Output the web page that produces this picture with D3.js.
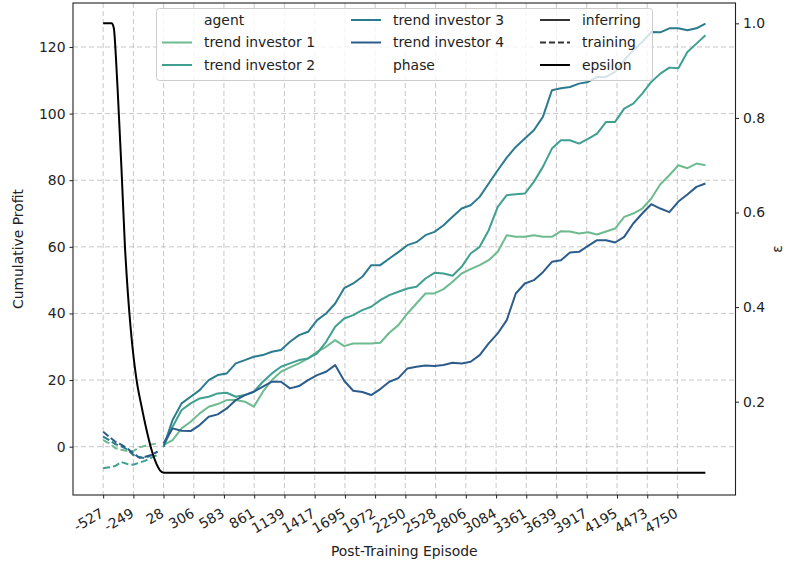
<!DOCTYPE html>
<html>
<head>
<meta charset="utf-8">
<script src="https://cdn.jsdelivr.net/npm/d3@7"></script>
<style>
  body { margin: 0; background: #fff; }
  text { font-family: "DejaVu Sans", sans-serif; fill: #222; }
</style>
</head>
<body>
<div id="chart"></div>
<script>
// tick labels on the episode axis
var xTicks = [-527, -249, 28, 306, 583, 861, 1139, 1417, 1695, 1972, 2250, 2528, 2806, 3084, 3361, 3639, 3917, 4195, 4473, 4750];
var profitTicks = [0, 20, 40, 60, 80, 100, 120];
var epsTicks = [0.2, 0.4, 0.6, 0.8, 1.0];

var agents = ["trend investor 1", "trend investor 2", "trend investor 3", "trend investor 4"];
var agentColors = ["#6dbb8f", "#3f9f90", "#2b7b8e", "#2b5c8c"];

// training phase, one value every 55.5 episodes starting at -527
var trainStart = -527, trainStep = 55.5;
var train1 = [2, 1, -0.4, -0.9, -1.3, -1.3, -0.2, 0.3, 0.7, 1];
var train2 = [-6.5, -6.2, -5.8, -4.6, -5.2, -5.4, -4.8, -4.2, -3.3, -2.5];
var train3 = [3, 2, 0.8, 0.1, -0.8, -2.5, -3.2, -3.4, -2.5, -1.5];
var train4 = [4.5, 3, 1.5, 0.6, -0.5, -2, -3.3, -3, -2.5, -1.5];

// inferring phase, one value every 83 episodes starting at 28
var inferStart = 28, inferStep = 83;
var infer1 = [0.5, 2, 5.5, 7.5, 10, 12, 12.8, 14, 14, 13.5, 12, 16.5, 20, 22.5, 23.8, 25, 26.5, 28.5, 30, 32,
  30.2, 31, 31, 31, 31.2, 34.2, 36.5, 40, 43, 46, 46, 47.3, 49.5, 52, 53.3, 54.5, 56, 58.5, 63.5, 63,
  63, 63.5, 63, 63, 64.7, 64.6, 64, 64.4, 63.7, 64.6, 65.5, 69, 70, 71.5, 74.5, 78.8, 81.5, 84.5, 83.6, 85, 84.5];
var infer2 = [0, 6, 11, 13, 14.5, 15, 16, 16.2, 15, 15.5, 16.5, 19.5, 22, 24, 25, 26, 26.5, 28, 31.5, 36,
  38.5, 39.5, 41, 42, 44, 45.5, 46.5, 47.5, 48, 50.5, 52.2, 52, 51.3, 54, 58, 60, 65, 72, 75.5, 75.8,
  76, 79.5, 84, 89.5, 92, 92, 91, 92.4, 94, 97.5, 97.5, 101.5, 103, 106, 109.5, 112, 113.8, 113.6, 118.5, 121, 123.5];
var infer3 = [0, 8, 13, 15, 17, 20, 21.5, 22, 25, 26, 27, 27.5, 28.5, 29, 31.5, 33.5, 34.5, 38, 40, 43,
  47.6, 49, 51, 54.5, 54.5, 56.5, 58.4, 60.5, 61.4, 63.5, 64.5, 66.5, 69, 71.5, 72.5, 75, 79, 83, 86.8, 90,
  92.5, 95, 99, 107, 107.6, 108, 109, 109.5, 111, 111, 112.5, 116, 119, 121.5, 124.5, 124.4, 125.6, 125.6, 125, 125.6, 127];
var infer4 = [1, 5.5, 4.8, 4.7, 6.5, 9, 9.7, 11.5, 14, 15.5, 16.5, 18, 19.5, 19.5, 17.5, 18.2, 20, 21.5, 22.5, 24.5,
  19.8, 16.8, 16.4, 15.5, 17.3, 19.5, 20.6, 23.5, 24, 24.4, 24.2, 24.5, 25.2, 25, 25.5, 27.5, 31, 34, 38, 46,
  49, 50, 52.4, 55.5, 56, 58.3, 58.5, 60.3, 62, 62, 61.3, 63, 67, 70, 72.8, 71.5, 70.4, 73.6, 75.7, 78, 79];

// exploration rate
var epsEpisodes = [-527, -450, -429, -410, -389, -358, -327, -300, -272, -220, -174, -128, -82, -36, -5, 31, 5007];
var epsValues = [1.0, 1.0, 0.99, 0.93, 0.838, 0.69, 0.53, 0.43, 0.35, 0.246, 0.19, 0.14, 0.098, 0.068, 0.055, 0.05, 0.05];

var width = 786, height = 565;
var margin = {left: 73, right: 50.5, top: 3, bottom: 70};

var svg = d3.select("#chart")
  .append("svg")
  .attr("width", width)
  .attr("height", height);

var x = d3.scaleLinear().domain([-804, 5284]).range([margin.left, width - margin.right]);
var y = d3.scaleLinear().domain([-14.5, 133.2]).range([height - margin.bottom, margin.top]);
var yEps = d3.scaleLinear().domain([0.0027, 1.043]).range([height - margin.bottom, margin.top]);

var plotBottom = height - margin.bottom;
var plotRight = width - margin.right;

// grid
svg.append("g")
  .selectAll("line")
  .data(xTicks)
  .enter().append("line")
  .attr("x1", function(d){ return x(d) })
  .attr("x2", function(d){ return x(d) })
  .attr("y1", margin.top)
  .attr("y2", plotBottom)
  .attr("stroke", "#b0b0b0")
  .attr("stroke-opacity", 0.7)
  .attr("stroke-dasharray", "5,3");

svg.append("g")
  .selectAll("line")
  .data(profitTicks)
  .enter().append("line")
  .attr("x1", margin.left)
  .attr("x2", plotRight)
  .attr("y1", function(d){ return y(d) })
  .attr("y2", function(d){ return y(d) })
  .attr("stroke", "#b0b0b0")
  .attr("stroke-opacity", 0.7)
  .attr("stroke-dasharray", "5,3");

function toPoints(start, step, vals) {
  return vals.map(function(v, i){ return [start + i * step, v] });
}

var line = d3.line()
  .x(function(d){ return x(d[0]) })
  .y(function(d){ return y(d[1]) });

var trainSeries = [train1, train2, train3, train4];
var inferSeries = [infer1, infer2, infer3, infer4];

var plot = svg.append("g");

trainSeries.forEach(function(s, i){
  plot.append("path")
    .attr("d", line(toPoints(trainStart, trainStep, s)))
    .attr("fill", "none")
    .attr("stroke", agentColors[i])
    .attr("stroke-width", 2)
    .attr("stroke-dasharray", "7,3");
});

inferSeries.forEach(function(s, i){
  plot.append("path")
    .attr("d", line(toPoints(inferStart, inferStep, s)))
    .attr("fill", "none")
    .attr("stroke", agentColors[i])
    .attr("stroke-width", 2)
    .attr("stroke-linejoin", "round");
});

var epsLine = d3.line()
  .x(function(d){ return x(d[0]) })
  .y(function(d){ return yEps(d[1]) })
  .curve(d3.curveMonotoneX);

plot.append("path")
  .attr("d", epsLine(epsEpisodes.map(function(e, i){ return [e, epsValues[i]] })))
  .attr("fill", "none")
  .attr("stroke", "#000")
  .attr("stroke-width", 2);

// axes
var xAxis = svg.append("g")
  .attr("transform", "translate(0," + plotBottom + ")")
  .call(d3.axisBottom(x).tickValues(xTicks).tickSize(3.5).tickFormat(function(d){ return String(d) }));
xAxis.selectAll("text")
  .attr("text-anchor", "end")
  .attr("y", 0)
  .attr("dy", 0)
  .attr("transform", "translate(1,21) rotate(-30)");

var yAxis = svg.append("g")
  .attr("transform", "translate(" + margin.left + ",0)")
  .call(d3.axisLeft(y).tickValues(profitTicks).tickSize(3.5).tickPadding(4));

var yAxisR = svg.append("g")
  .attr("transform", "translate(" + plotRight + ",0)")
  .call(d3.axisRight(yEps).tickValues(epsTicks).tickSize(3.5).tickPadding(4).tickFormat(d3.format(".1f")));

[xAxis, yAxis, yAxisR].forEach(function(a){
  a.selectAll("text").style("font-size", "13.9px").attr("fill", "#222");
  a.selectAll("line").attr("stroke", "#222");
  a.select(".domain").remove();
});

svg.append("rect")
  .attr("x", margin.left)
  .attr("y", margin.top)
  .attr("width", plotRight - margin.left)
  .attr("height", plotBottom - margin.top)
  .attr("fill", "none")
  .attr("stroke", "#222")
  .attr("stroke-width", 1.1);

svg.append("text")
  .attr("x", (margin.left + plotRight) / 2)
  .attr("y", 556)
  .attr("text-anchor", "middle")
  .style("font-size", "13.9px")
  .text("Post-Training Episode");

svg.append("text")
  .attr("transform", "translate(23," + ((margin.top + plotBottom) / 2) + ") rotate(-90)")
  .attr("text-anchor", "middle")
  .style("font-size", "13.9px")
  .text("Cumulative Profit");

svg.append("text")
  .attr("transform", "translate(782," + ((margin.top + plotBottom) / 2) + ") rotate(-90)")
  .attr("text-anchor", "middle")
  .style("font-size", "13.9px")
  .text("ε");

// legend
var legendItems = [
  {label: "agent", col: 0, row: 0},
  {label: agents[0], col: 0, row: 1, color: agentColors[0]},
  {label: agents[1], col: 0, row: 2, color: agentColors[1]},
  {label: agents[2], col: 1, row: 0, color: agentColors[2]},
  {label: agents[3], col: 1, row: 1, color: agentColors[3]},
  {label: "phase", col: 1, row: 2},
  {label: "inferring", col: 2, row: 0, color: "#333"},
  {label: "training", col: 2, row: 1, color: "#333", dash: "6,3"},
  {label: "epsilon", col: 2, row: 2, color: "#000"}
];
var colX = [162, 351, 540];

var legend = svg.append("g");
legend.append("rect")
  .attr("x", 156.5)
  .attr("y", 8.5)
  .attr("width", 496)
  .attr("height", 72)
  .attr("rx", 3)
  .attr("fill", "#fff")
  .attr("fill-opacity", 0.8)
  .attr("stroke", "#ccc");

var items = legend.selectAll(".item")
  .data(legendItems)
  .enter().append("g")
  .attr("class", "item")
  .attr("transform", function(d){ return "translate(" + colX[d.col] + "," + (20 + d.row * 22.5) + ")" });

items.filter(function(d){ return d.color })
  .append("line")
  .attr("x1", 0)
  .attr("x2", 30)
  .attr("stroke", function(d){ return d.color })
  .attr("stroke-width", 2)
  .attr("stroke-dasharray", function(d){ return d.dash || null });

items.append("text")
  .attr("x", 42)
  .attr("dy", "0.35em")
  .style("font-size", "13.9px")
  .text(function(d){ return d.label });
</script>
</body>
</html>
